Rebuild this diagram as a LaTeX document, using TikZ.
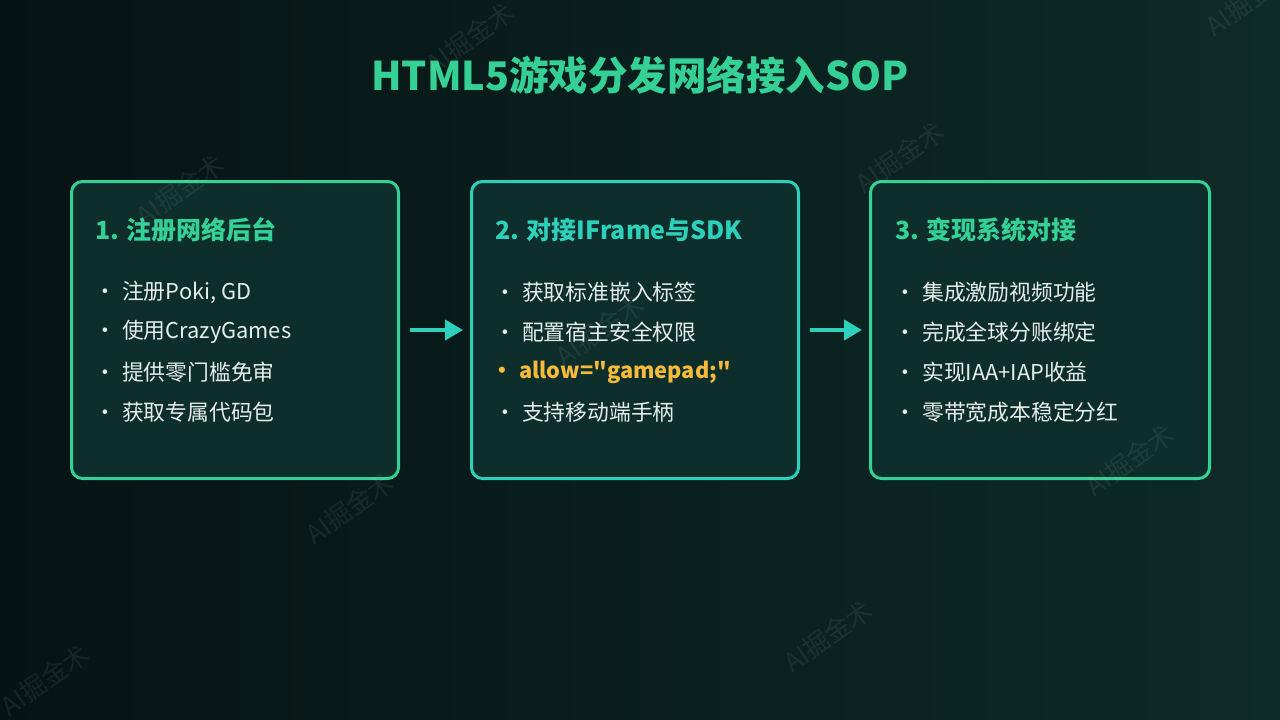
\documentclass[tikz,border=0pt]{standalone}
\usepackage{fontspec}
\setmainfont{Noto Sans CJK SC}
\newfontfamily\plainfont{Noto Sans CJK SC}
\usetikzlibrary{arrows.meta}

\definecolor{bgleft}{RGB}{6,19,20}
\definecolor{bgright}{RGB}{13,43,39}
\definecolor{boxfill}{RGB}{14,46,43}
\definecolor{sopgreen}{RGB}{52,208,150}
\definecolor{sopteal}{RGB}{45,208,186}
\definecolor{sopgold}{RGB}{246,187,58}
\definecolor{itemtext}{RGB}{230,238,236}

\begin{document}
\begin{tikzpicture}[x=1pt, y=-1pt,
    box/.style={draw, line width=3pt, rounded corners=11pt, fill=boxfill,
      minimum width=327pt, minimum height=297pt, inner sep=0pt},
    steptitle/.style={anchor=west, inner sep=0pt, font=\fontsize{25}{30}\selectfont\bfseries},
    point/.style={anchor=west, inner sep=0pt, text=itemtext, font=\fontsize{21.8}{26}\selectfont},
    wmark/.style={rotate=35, text=white, text opacity=0.07, font=\fontsize{26}{30}\selectfont},
    flow/.style={draw=sopteal, line width=4pt, -{Triangle[length=18pt,width=20pt]},
      shorten <=10pt, shorten >=7pt}]

        \shade[left color=bgleft, right color=bgright] (0,0) rectangle (1280,720);
        \useasboundingbox (0,0) rectangle (1280,720);
        \clip (0,0) rectangle (1280,720);

        \node[text=sopgreen, inner sep=0pt, font=\fontsize{39.5}{46}\selectfont\bfseries] (title) at (640,75) {HTML5游戏分发网络接入SOP};

        \node[box, draw=sopgreen] (b1) at (235,330) {};
        \node[box, draw=sopteal] (b2) at (635,330) {};
        \node[box, draw=sopgreen, minimum width=339pt] (b3) at (1040,330) {};

        \draw[flow] (b1) -- (b2);
        \draw[flow] (b2) -- (b3);

        \node[steptitle, text=sopgreen] (t1) at (95,230) {1. 注册网络后台};
        \node[point] (p11) at (94,292) {\makebox[28pt][l]{•}注册Poki, GD};
        \node[point] (p12) at (94,332) {\makebox[28pt][l]{•}使用CrazyGames};
        \node[point] (p13) at (94,372) {\makebox[28pt][l]{•}提供零门槛免审};
        \node[point] (p14) at (94,412) {\makebox[28pt][l]{•}获取专属代码包};

        \node[steptitle, text=sopteal] (t2) at (495,230) {2. 对接IFrame与SDK};
        \node[point] (p21) at (494,292) {\makebox[28pt][l]{•}获取标准嵌入标签};
        \node[point] (p22) at (494,332) {\makebox[28pt][l]{•}配置宿主安全权限};
        \node[point, text=sopgold, font=\plainfont\fontsize{21.8}{26}\selectfont\bfseries] (p23) at (491,372) {\makebox[28pt][l]{•}allow="gamepad;"};
        \node[point] (p24) at (494,412) {\makebox[28pt][l]{•}支持移动端手柄};

        \node[steptitle, text=sopgreen] (t3) at (895,230) {3. 变现系统对接};
        \node[point] (p31) at (894,292) {\makebox[28pt][l]{•}集成激励视频功能};
        \node[point] (p32) at (894,332) {\makebox[28pt][l]{•}完成全球分账绑定};
        \node[point] (p33) at (894,372) {\makebox[28pt][l]{•}实现IAA+IAP收益};
        \node[point] (p34) at (894,412) {\makebox[28pt][l]{•}零带宽成本稳定分红};

        \node[wmark] (w1) at (470,38) {AI掘金术};
        \node[wmark] (w2) at (1250,0) {AI掘金术};
        \node[wmark] (w3) at (900,157) {AI掘金术};
        \node[wmark] (w4) at (180,190) {AI掘金术};
        \node[wmark] (w5) at (350,508) {AI掘金术};
        \node[wmark] (w6) at (600,330) {AI掘金术};
        \node[wmark] (w7) at (1130,460) {AI掘金术};
        \node[wmark] (w8) at (828,636) {AI掘金术};
        \node[wmark] (w9) at (45,680) {AI掘金术};

      \end{tikzpicture}
\end{document}
